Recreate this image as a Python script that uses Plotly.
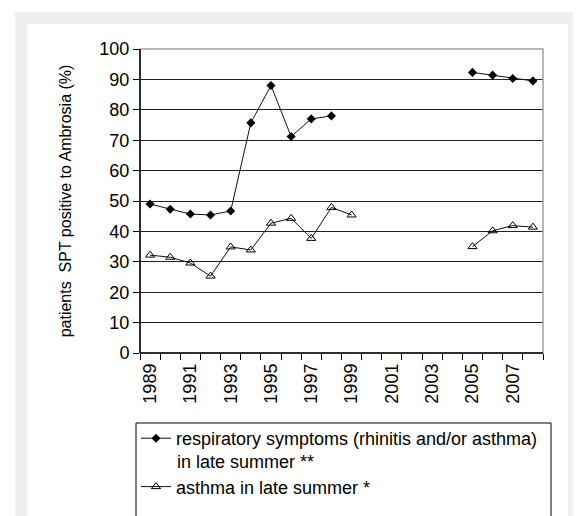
import plotly.graph_objects as go

years = list(range(1989, 2009))
respiratory = [49, 47.3, 45.7, 45.4, 46.7, 75.7, 88, 71.2, 77, 78,
               None, None, None, None, None, None, 92.3, 91.4, 90.3, 89.5]
asthma = [32.2, 31.5, 29.6, 25.3, 34.9, 33.9, 42.7, 44.3, 37.7, 47.9, 45.4,
          None, None, None, None, None, 35, 40.2, 41.9, 41.4]
tick_years = list(range(1989, 2009, 2))
name_resp = "respiratory symptoms (rhinitis and/or asthma)"
name_resp_cont = "in late summer **"
name_asthma = "asthma in late summer *"

# page has an 8px body margin; work in reference-pixel coordinates
OFF = 8
W, H = 581 - OFF, 516 - OFF
L, R, T, B = 140 - OFF, 543 - OFF, 49 - OFF, 353 - OFF

def xp(px):
    return (px - OFF - L) / (R - L)

def yp(py):
    return (B - (py - OFF)) / (B - T)

font = "Arial, Liberation Sans, sans-serif"

fig = go.Figure()
fig.add_trace(go.Scatter(
    x=years, y=respiratory, name=name_resp, mode="lines+markers",
    legendgroup="a",
    line=dict(color="#111111", width=1),
    marker=dict(symbol="diamond", size=7, color="black"),
))
fig.add_trace(go.Scatter(
    x=years, y=asthma, name=name_asthma, mode="lines+markers",
    legendgroup="b",
    line=dict(color="#111111", width=1),
    marker=dict(symbol="triangle-up-open", size=8, color="black", line=dict(width=1)),
))

shapes = [
    dict(type="rect", xref="paper", yref="paper", layer="below",
         x0=xp(15), x1=xp(600), y0=yp(560), y1=yp(12),
         fillcolor="#efefef", line=dict(width=0)),
    dict(type="rect", xref="paper", yref="paper", layer="below",
         x0=xp(27), x1=xp(568), y0=yp(560), y1=yp(24),
         fillcolor="white", line=dict(width=0)),
    dict(type="rect", xref="paper", yref="paper", layer="above",
         x0=0, x1=1, y0=0, y1=1, fillcolor="rgba(0,0,0,0)",
         line=dict(color="#a0a0a0", width=1.5)),
    dict(type="line", xref="paper", yref="paper", layer="above",
         x0=0, x1=0, y0=0, y1=1, line=dict(color="black", width=1.5)),
    dict(type="line", xref="paper", yref="paper", layer="above",
         x0=0, x1=1, y0=0, y1=0, line=dict(color="black", width=1.5)),
    dict(type="rect", xref="paper", yref="paper", layer="above",
         x0=xp(136), x1=xp(551), y0=yp(560), y1=yp(423),
         fillcolor="rgba(0,0,0,0)", line=dict(color="black", width=1)),
]

annotations = [
    dict(text=name_resp_cont, xref="paper", yref="paper", x=xp(176), y=yp(462),
         xanchor="left", yanchor="middle", showarrow=False, borderpad=0,
         font=dict(size=18, family=font, color="black")),
]

fig.update_layout(
    width=W, height=H,
    margin=dict(l=L, r=W - R, t=T, b=H - B, autoexpand=False),
    paper_bgcolor="white", plot_bgcolor="rgba(0,0,0,0)",
    font=dict(family=font, color="black"),
    shapes=shapes,
    annotations=annotations,
    showlegend=True,
    legend=dict(x=xp(136), y=yp(420), xanchor="left", yanchor="top",
                bgcolor="rgba(0,0,0,0)", font=dict(size=18, family=font),
                tracegroupgap=22, itemwidth=30, valign="middle"),
    xaxis=dict(range=[1988.5, 2008.5], tickmode="array", tickvals=tick_years,
               ticktext=[str(y) for y in tick_years], tickangle=-90,
               ticks="", showgrid=False, zeroline=False, showline=False,
               automargin=False, ticklabelstandoff=6,
               tickfont=dict(size=18, family=font),
               minor=dict(tickmode="linear", tick0=1988.5, dtick=1, ticks="outside",
                          ticklen=6, tickcolor="black", tickwidth=1, showgrid=False)),
    yaxis=dict(range=[0, 100], dtick=10, tick0=0, ticks="outside", ticklen=6,
               tickcolor="black", showgrid=True, gridcolor="#222222", gridwidth=1,
               zeroline=False, showline=False, automargin=False,
               tickfont=dict(size=18, family=font),
               title=dict(text="patients  SPT positive to Ambrosia (%)",
                          font=dict(size=16, family=font), standoff=23)),
)

fig.write_html("out.html")
